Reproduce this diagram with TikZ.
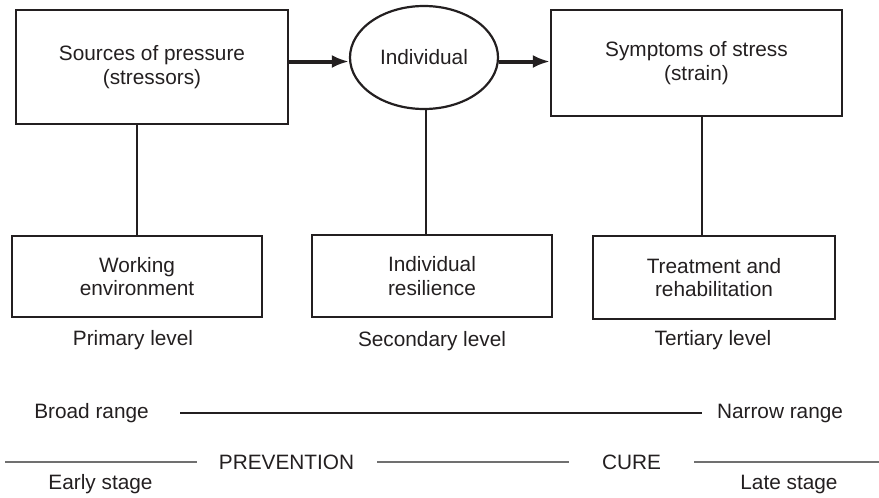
\documentclass[tikz,border=0pt]{standalone}
\usepackage{fontspec}
\setmainfont{Liberation Sans}
\usetikzlibrary{arrows.meta,shapes.geometric,calc}
\definecolor{ink}{HTML}{231F20}
\definecolor{rule}{HTML}{707070}
\begin{document}
\begin{tikzpicture}[x=1pt,y=-1pt,
  every node/.style={text=ink,font=\fontsize{20.8}{23.5}\selectfont,align=center,inner sep=0pt},
  stagebox/.style={draw=ink,line width=2.2pt,rectangle},
  personoval/.style={draw=ink,line width=2.2pt,ellipse},
  flow/.style={draw=ink,line width=4pt,-{Latex[length=17pt,width=13pt]}},
  link/.style={draw=ink,line width=2.6pt},
  rangerule/.style={draw=ink,line width=2.4pt},
  thinrule/.style={draw=rule,line width=1.2pt}]
\useasboundingbox (0,0) rectangle (879,498);

% top row
\node[stagebox,minimum width=272pt,minimum height=114pt] (src) at (152,67)
  {Sources of pressure\\(stressors)};
\node[personoval,minimum width=148pt,minimum height=103pt] (ind) at (424,57.5)
  {Individual};
\node[stagebox,minimum width=291pt,minimum height=106pt] (sym) at (696.5,63)
  {Symptoms of stress\\(strain)};

% bottom row
\node[stagebox,minimum width=250pt,minimum height=81pt] (work) at (137,276.5)
  {Working\\environment};
\node[stagebox,minimum width=240pt,minimum height=82pt] (res) at (432,276)
  {Individual\\resilience};
\node[stagebox,minimum width=242pt,minimum height=83pt] (treat) at (714,277.5)
  {Treatment and\\rehabilitation};

% level labels
\node (prim) at (133,340) {Primary level};
\node (sec) at (432,341) {Secondary level};
\node (tert) at (713,340) {Tertiary level};

% arrows
\coordinate (ar) at (0,61.5);
\draw[flow] (src.east |- ar) -- (ind.west |- ar);
\draw[flow] (ind.east |- ar) -- (sym.west |- ar);

% vertical links
\draw[link] (work.north |- src.south) -- (work.north);
\draw[link] ($(ind.south)+(2,0)$) -- ($(ind.south |- res.north)+(2,0)$);
\coordinate (symfoot) at ($(sym.south)+(5.5,0)$);
\draw[link] (symfoot) -- (symfoot |- treat.north);

% range scale
\node (broad) at (91.5,413) {Broad range};
\node (narrow) at (780,413) {Narrow range};
\coordinate (rangeL) at (180,413);
\coordinate (rangeR) at (702,413);
\draw[rangerule] (rangeL) -- (rangeR);

% prevention / cure scale
\node (prev) at (286.5,462) {PREVENTION};
\node (cure) at (631.5,462) {CURE};
\coordinate (p0) at (5,462);
\coordinate (p1) at (197,462);
\coordinate (p2) at (377,462);
\coordinate (p3) at (569,462);
\coordinate (p4) at (694,462);
\coordinate (p5) at (879,462);
\draw[thinrule] (p0) -- (p1);
\draw[thinrule] (p2) -- (p3);
\draw[thinrule] (p4) -- (p5);
\node (early) at (100.5,484) {Early stage};
\node (late) at (789,484) {Late stage};
\end{tikzpicture}
\end{document}
